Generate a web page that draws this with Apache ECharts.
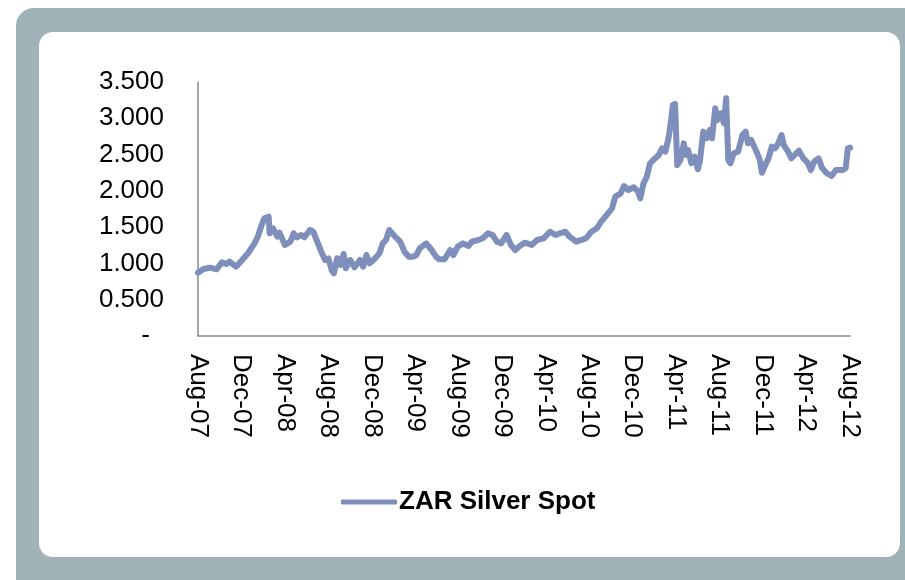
<!DOCTYPE html>
<html>
<head>
<meta charset="utf-8">
<script src="https://cdn.jsdelivr.net/npm/echarts@6/dist/echarts.min.js"></script>
<style>
  html, body { margin: 0; padding: 0; background: #fff; }
  #silverChart { width: 905px; height: 580px; }
</style>
</head>
<body>
<div id="silverChart"></div>
<script>
// month labels on the x axis, one every 4 months starting Aug-07
var monthLabels = ['Aug-07', 'Dec-07', 'Apr-08', 'Aug-08', 'Dec-08', 'Apr-09', 'Aug-09', 'Dec-09',
  'Apr-10', 'Aug-10', 'Dec-10', 'Apr-11', 'Aug-11', 'Dec-11', 'Apr-12', 'Aug-12'];

// position of each reading, in months since Aug-07
var monthPos = [0, 0.5, 1.1, 1.7, 2.2, 2.6, 2.9, 3.5, 4.0, 4.6, 5.2, 5.5, 5.8, 6.1, 6.5, 6.6, 6.9, 7.3, 7.5,
  8.0, 8.5, 8.8, 9.1, 9.5, 9.8, 10.3, 10.6, 11.1, 11.4, 11.7, 12.0, 12.3, 12.5, 12.8, 13.1, 13.4, 13.6,
  14.0, 14.4, 14.9, 15.2, 15.5, 15.8, 16.3, 16.7, 17.0, 17.3, 17.6, 18.0, 18.3, 18.6, 19.0, 19.4, 19.8,
  20.1, 20.4, 21.0, 21.5, 21.9, 22.2, 22.7, 23.2, 23.5, 23.9, 24.4, 24.9, 25.2, 25.8, 26.2, 26.7, 27.1,
  27.5, 27.9, 28.4, 28.8, 29.2, 29.6, 30.1, 30.7, 31.2, 31.8, 32.4, 32.9, 33.3, 33.8, 34.2, 34.8, 35.3,
  35.7, 36.2, 36.7, 37.1, 37.6, 38.1, 38.4, 38.9, 39.2, 39.6, 40.1, 40.5, 40.7, 41.0, 41.3, 41.6, 41.9,
  42.4, 42.7, 43.0, 43.3, 43.5, 43.7, 43.9, 44.1, 44.4, 44.7, 44.9, 45.1, 45.4, 45.7, 46.0, 46.2, 46.5,
  46.8, 47.1, 47.3, 47.6, 47.8, 48.1, 48.4, 48.6, 48.8, 49.0, 49.3, 49.7, 50.1, 50.4, 50.6, 50.9, 51.4,
  51.7, 51.9, 52.2, 52.5, 52.8, 53.1, 53.4, 53.7, 53.9, 54.3, 54.6, 54.9, 55.3, 55.7, 56.1, 56.4, 56.7,
  57.1, 57.4, 57.8, 58.3, 58.7, 59.3, 59.6, 59.8, 60.0];

// ZAR silver spot values
var silverSpot = [872, 923, 941, 919, 1015, 992, 1024, 955, 1038, 1140, 1277, 1368, 1506, 1622, 1644, 1415,
  1484, 1368, 1424, 1254, 1300, 1415, 1360, 1392, 1360, 1461, 1437, 1254, 1140, 1047, 1071, 909, 864,
  1071, 978, 1130, 933, 1047, 947, 1047, 955, 1116, 1002, 1071, 1140, 1277, 1323, 1461, 1392, 1346,
  1300, 1162, 1093, 1093, 1116, 1208, 1277, 1185, 1093, 1056, 1056, 1185, 1116, 1231, 1277, 1240, 1300,
  1323, 1346, 1415, 1392, 1300, 1277, 1392, 1254, 1185, 1240, 1286, 1254, 1323, 1346, 1437, 1392, 1415,
  1437, 1368, 1300, 1323, 1346, 1437, 1484, 1575, 1667, 1759, 1920, 1966, 2067, 2012, 2049, 1989, 1897,
  2104, 2195, 2380, 2425, 2494, 2586, 2540, 2724, 2931, 3183, 3197, 2356, 2425, 2655, 2494, 2563, 2380,
  2471, 2297, 2425, 2816, 2724, 2839, 2724, 3138, 2977, 3069, 2931, 3276, 2425, 2380, 2517, 2540, 2770,
  2816, 2655, 2701, 2540, 2425, 2250, 2356, 2448, 2609, 2586, 2655, 2770, 2632, 2540, 2448, 2494, 2554,
  2448, 2388, 2287, 2402, 2448, 2325, 2250, 2205, 2287, 2287, 2311, 2586, 2595];

var lineData = monthPos.map(function (m, i) { return [m, silverSpot[i]]; });

var chart = echarts.init(document.getElementById('silverChart'));
chart.setOption({
  animation: false,
  textStyle: { fontFamily: 'Liberation Sans, Arial, sans-serif' },
  graphic: [
    { type: 'rect', silent: true, z: -10, shape: { x: 16, y: 8, width: 940, height: 620, r: 18 }, style: { fill: '#9fb3b8' } },
    { type: 'rect', silent: true, z: -9, shape: { x: 39, y: 32, width: 861, height: 525, r: 14 }, style: { fill: '#ffffff' } }
  ],
  grid: { left: 198, top: 82, width: 652, height: 254 },
  legend: {
    left: 336,
    top: 484,
    icon: 'roundRect',
    itemWidth: 56,
    itemHeight: 5,
    itemGap: 4,
    textStyle: { fontSize: 26, fontWeight: 'bold', color: '#000', padding: [0, 0, 0, -3] },
    data: ['ZAR Silver Spot']
  },
  xAxis: {
    type: 'value',
    min: 0,
    max: 60,
    interval: 4,
    splitLine: { show: false },
    axisTick: { show: false },
    axisLine: { lineStyle: { color: '#888', width: 1.5 } },
    axisLabel: {
      rotate: -90,
      margin: 18,
      fontSize: 26,
      color: '#000',
      formatter: function (v) { return monthLabels[Math.round(v / 4)]; }
    }
  },
  yAxis: {
    type: 'value',
    min: 0,
    max: 3500,
    interval: 500,
    splitLine: { show: false },
    axisTick: { show: false },
    axisLine: { show: true, lineStyle: { color: '#888', width: 1.5 } },
    axisLabel: {
      margin: 34,
      fontSize: 26,
      color: '#000',
      formatter: function (v) {
        if (v === 0) return '{dash|-}';
        return (v / 1000).toFixed(3);
      },
      rich: { dash: { fontSize: 26, color: '#000', padding: [0, 14, 0, 0] } }
    }
  },
  series: [{
    name: 'ZAR Silver Spot',
    type: 'line',
    data: lineData,
    showSymbol: false,
    symbol: 'none',
    itemStyle: { color: '#7f8fbc' },
    lineStyle: { color: '#7f8fbc', width: 6, cap: 'round', join: 'round' }
  }]
});
</script>
</body>
</html>
